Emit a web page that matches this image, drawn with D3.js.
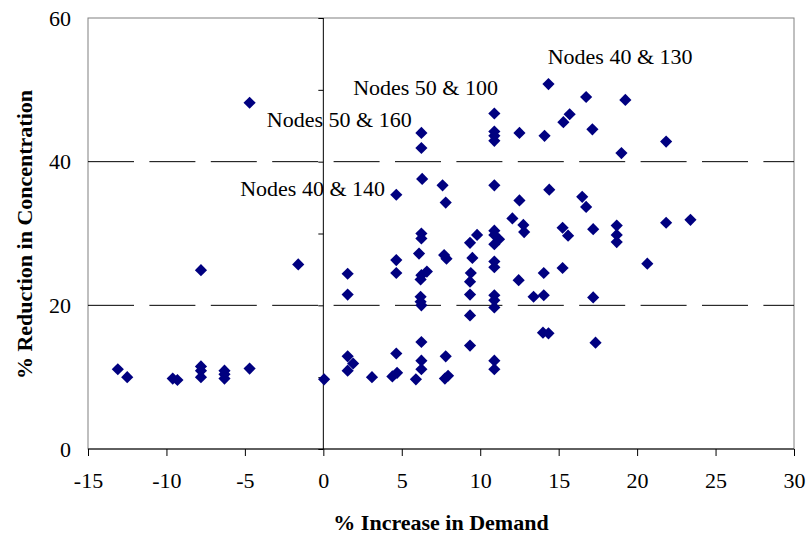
<!DOCTYPE html>
<html>
<head>
<meta charset="utf-8">
<script src="https://cdn.jsdelivr.net/npm/d3@7"></script>
<style>
body { margin: 0; background: #fff; }
text { font-family: "Times New Roman", "Liberation Serif", serif; fill: #000; }
</style>
</head>
<body>
<div id="chart"></div>
<script>
// demand increase (%) vs concentration reduction (%)
var demand = [-13.1, -12.5, -9.6, -9.3, -7.8, -7.8, -7.8, -6.3, -6.3, -6.3, -4.7, -4.7, -7.8, -1.6, 0.05,
    1.55, 1.55, 1.55, 1.9, 1.55, 3.1, 4.65, 4.65, 4.65, 4.65, 4.4, 4.7, 5.9,
    6.25, 6.25, 6.3, 6.25, 6.25, 6.1, 6.6, 6.25, 6.2, 6.2, 6.2, 6.25, 6.25, 6.25, 6.25,
    7.6, 7.8, 7.7, 7.85, 7.8, 7.75, 7.95,
    9.35, 9.8, 9.5, 9.4, 9.35, 9.35, 9.35, 9.35,
    10.9, 10.9, 10.9, 10.9, 10.9, 10.9, 10.9, 11.2, 10.9, 10.9, 10.9, 10.9, 10.9, 10.9, 10.9, 10.9,
    12.05, 12.5, 12.5, 12.75, 12.8, 12.45,
    13.4, 14.05, 14.05, 14.1, 14.35, 14.4, 14.0, 14.35,
    15.25, 15.6, 15.25, 15.3, 15.7,
    16.5, 16.75, 16.75, 17.15, 17.2, 17.2, 17.35,
    18.7, 18.7, 18.7, 19.0, 19.25,
    20.65, 21.85, 21.85, 23.4];
var reduction = [11.1, 10.0, 9.8, 9.6, 11.5, 10.9, 10.0, 10.9, 10.4, 9.8, 11.2, 48.2, 24.9, 25.7, 9.7,
    24.4, 21.5, 12.9, 11.9, 10.9, 10.0, 26.3, 24.5, 35.4, 13.3, 10.1, 10.6, 9.7,
    44.0, 41.9, 37.6, 30.0, 29.3, 27.2, 24.7, 24.2, 23.6, 21.2, 20.5, 20.0, 14.9, 12.3, 11.1,
    36.7, 34.3, 27.0, 26.5, 12.9, 9.8, 10.2,
    28.7, 29.8, 26.6, 24.5, 23.3, 21.5, 18.6, 14.4,
    46.7, 44.2, 43.6, 42.9, 36.7, 30.4, 29.8, 29.2, 28.5, 26.1, 25.3, 21.4, 20.7, 19.7, 12.3, 11.1,
    32.1, 34.6, 44.0, 31.2, 30.2, 23.5,
    21.2, 21.4, 24.5, 43.6, 50.8, 36.1, 16.2, 16.1,
    30.8, 29.7, 25.2, 45.5, 46.6,
    35.1, 33.7, 49.0, 44.5, 30.6, 21.1, 14.8,
    31.1, 29.8, 28.8, 41.2, 48.6,
    25.8, 42.8, 31.5, 31.9];

var xTicks = [-15, -10, -5, 0, 5, 10, 15, 20, 25, 30];
var yLabelTicks = [0, 20, 40, 60];
var yMinorTicks = [0, 10, 20, 30, 40, 50, 60];
var gridValues = [20, 40];

var noteText = ["Nodes 40 & 130", "Nodes 50 & 100", "Nodes 50 & 160", "Nodes 40 & 140"];
var noteX = [14.3, 1.9, -3.6, -5.3];
var noteY = [53.6, 49.3, 44.8, 35.2];

var svgwidth = 809, svgheight = 536;
var margin = {top: 18, right: 15, bottom: 87, left: 88};
var width = svgwidth - margin.left - margin.right;
var height = svgheight - margin.top - margin.bottom;

var svg = d3.select("#chart")
    .append("svg")
    .attr("width", svgwidth)
    .attr("height", svgheight);

var g = svg.append("g")
    .attr("transform", "translate(" + margin.left + "," + margin.top + ")");

var x = d3.scaleLinear().domain([-15, 30]).range([0, width]);
var y = d3.scaleLinear().domain([0, 60]).range([height, 0]);

// plot area border
g.append("rect")
    .attr("width", width)
    .attr("height", height)
    .attr("fill", "none")
    .attr("stroke", "#808080")
    .attr("stroke-width", 1);

// dashed gridlines
g.selectAll(".grid")
    .data(gridValues)
    .enter().append("line")
    .attr("class", "grid")
    .attr("x1", 0)
    .attr("x2", width)
    .attr("y1", function(d) { return y(d); })
    .attr("y2", function(d) { return y(d); })
    .attr("stroke", "#000")
    .attr("stroke-width", 1)
    .attr("stroke-dasharray", "46,15.4");

// y labels at the left edge
var yLabels = g.append("g")
    .call(d3.axisLeft(y).tickValues(yLabelTicks).tickSize(0).tickPadding(17)
        .tickFormat(function(d) { return String(d); }));
yLabels.select(".domain").remove();
yLabels.selectAll("text").style("font-size", "22px").attr("font-family", null);

// y axis line crossing at x = 0
var yAxisg = g.append("g")
    .attr("transform", "translate(" + x(0) + ",0)")
    .call(d3.axisLeft(y).tickValues(yMinorTicks).tickSize(5).tickFormat(""));
yAxisg.select(".domain").attr("stroke", "#000").attr("d", "M0," + height + "V0");

// x axis
var xAxisg = g.append("g")
    .attr("transform", "translate(0," + height + ")")
    .call(d3.axisBottom(x).tickValues(xTicks).tickSize(7).tickPadding(16)
        .tickFormat(function(d) { return String(d); }));
xAxisg.select(".domain").attr("d", "M0,0H" + width);
xAxisg.selectAll("text").style("font-size", "22px").attr("font-family", null);

// points
var diamond = d3.symbol().type(d3.symbolSquare).size(74);
g.append("g")
    .selectAll(".pt")
    .data(demand)
    .enter().append("path")
    .attr("class", "pt")
    .attr("d", diamond)
    .attr("transform", function(d, i) {
        return "translate(" + x(d) + "," + y(reduction[i]) + ") rotate(45)";
    })
    .attr("fill", "#000080");

// node annotations
g.selectAll(".note")
    .data(noteText)
    .enter().append("text")
    .attr("class", "note")
    .attr("x", function(d, i) { return x(noteX[i]); })
    .attr("y", function(d, i) { return y(noteY[i]); })
    .style("font-size", "22px")
    .text(function(d) { return d; });

// axis titles
svg.append("text")
    .attr("x", margin.left + x(7.5))
    .attr("y", 530)
    .attr("text-anchor", "middle")
    .style("font-size", "22px")
    .style("font-weight", "bold")
    .text("% Increase in Demand");

svg.append("text")
    .attr("transform", "translate(32," + (margin.top + height / 2 + 1) + ") rotate(-90)")
    .attr("text-anchor", "middle")
    .style("font-size", "22px")
    .style("font-weight", "bold")
    .text("% Reduction in Concentration");
</script>
</body>
</html>
